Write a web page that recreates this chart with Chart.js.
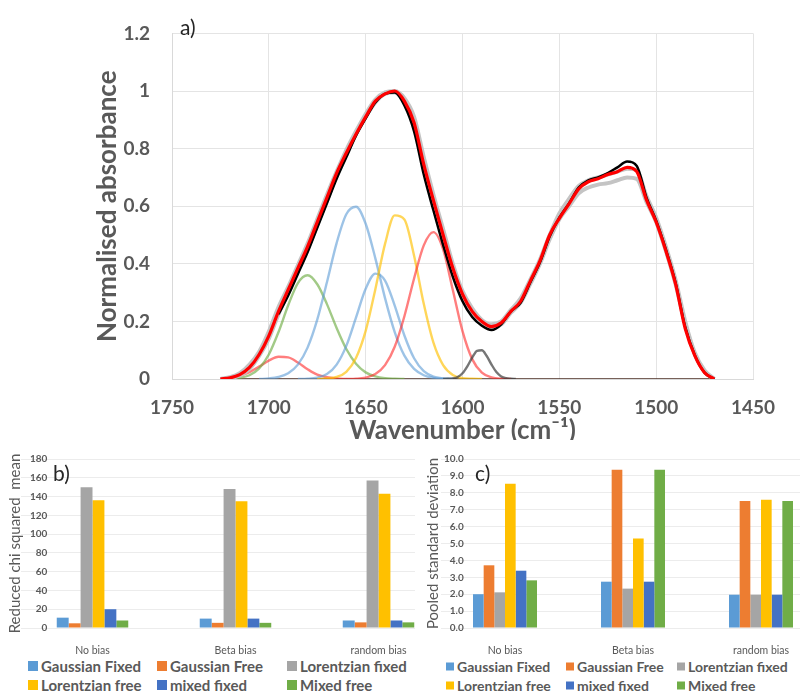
<!DOCTYPE html>
<html>
<head>
<meta charset="utf-8">
<script src="https://cdn.jsdelivr.net/npm/chart.js@4.4.1/dist/chart.umd.min.js"></script>
<style>
  html, body { margin: 0; padding: 0; background: #fff; overflow: hidden; }
  body { width: 800px; height: 699px; position: relative; font-family: Lato, sans-serif; }
  #wrapA { position: absolute; left: 0; top: 0; width: 800px; height: 446px; }
  #wrapB { position: absolute; left: 0; top: 440px; width: 415px; height: 215px; overflow: hidden; }
  #wrapC { position: absolute; left: 415px; top: 440px; width: 385px; height: 215px; overflow: hidden; background: #fff; }
  .key { position: absolute; display: flex; align-items: center; gap: 3px; transform: translateY(-50%);
         font-family: Lato, sans-serif; font-weight: bold; color: #595959; white-space: nowrap; }
  .key span { display: inline-block; }
</style>
</head>
<body>
<div id="wrapA"><canvas id="spectrum" width="800" height="446"></canvas></div>
<div id="wrapB"><canvas id="chiChart" width="460" height="215"></canvas></div>
<div id="wrapC"><canvas id="sdChart" width="420" height="215"></canvas></div>

<script>
// ---- a) spectra, wavenumber grid (cm-1) ----
const wn = [1725,1720,1715,1710,1705,1700,1695,1690,1685,1680,1675,1670,1665,1660,1655,1650,1645,1640,1635,1630,1625,1620,1615,1610,1605,1600,1595,1590,1585,1580,1575,1570,1565,1560,1555,1550,1545,1540,1535,1530,1525,1520,1515,1510,1505,1500,1495,1490,1485,1480,1475,1470];

const specRed = [0,0.004,0.015,0.04,0.085,0.15,0.235,0.31,0.385,0.46,0.545,0.63,0.715,0.785,0.85,0.91,0.965,0.99,1.0,0.965,0.89,0.745,0.62,0.5,0.385,0.295,0.235,0.2,0.182,0.195,0.235,0.27,0.34,0.41,0.5,0.558,0.608,0.66,0.685,0.695,0.71,0.72,0.735,0.72,0.622,0.545,0.445,0.33,0.175,0.08,0.022,0];
const specBlack = [null,null,null,null,null,null,0.225,0.29,0.365,0.44,0.525,0.61,0.695,0.77,0.845,0.905,0.96,0.99,0.995,0.95,0.86,0.71,0.585,0.465,0.355,0.27,0.215,0.185,0.17,0.19,0.235,0.265,0.335,0.405,0.495,0.56,0.61,0.665,0.69,0.70,0.715,0.735,0.755,0.74,0.63,0.55,0.45,0.335,0.18,0.082,0.022,0];
const specGreyA = [0,0.006,0.02,0.05,0.095,0.165,0.25,0.32,0.395,0.47,0.555,0.64,0.72,0.795,0.86,0.92,0.97,0.995,1.0,0.975,0.91,0.77,0.64,0.52,0.4,0.305,0.245,0.205,0.19,0.2,0.24,0.28,0.345,0.415,0.5,0.575,0.625,0.67,0.69,0.7,0.71,0.72,0.73,0.725,0.635,0.56,0.46,0.345,0.2,0.09,0.03,0];
const specGreyB = [0,0.003,0.012,0.035,0.08,0.14,0.225,0.3,0.375,0.45,0.535,0.62,0.705,0.78,0.85,0.91,0.96,0.99,0.995,0.96,0.885,0.74,0.61,0.49,0.375,0.29,0.23,0.195,0.18,0.19,0.23,0.265,0.33,0.4,0.485,0.555,0.6,0.645,0.665,0.675,0.68,0.69,0.7,0.695,0.615,0.545,0.445,0.33,0.19,0.085,0.025,0];

// fitted bands
const compWn = [1725,1720,1715,1710,1705,1700,1695,1690,1685,1680,1675,1670,1665,1660,1655,1650,1645,1640,1635,1630,1625,1620,1615,1610,1605,1600,1595,1590,1585,1580,1575];
const bandRedSmall = [0.001,0.004,0.011,0.024,0.043,0.064,0.077,0.075,0.057,0.034,0.015,0.006,0.002,0,null,null,null,null,null,null,null,null,null,null,null,null,null,null,null,null,null];
const bandGreen = [0,0.001,0.004,0.013,0.037,0.085,0.163,0.256,0.333,0.36,0.329,0.26,0.177,0.104,0.053,0.023,0.009,0.003,0.001,0,null,null,null,null,null,null,null,null,null,null,null];
const bandBlueTall = [null,null,null,null,0,0.002,0.007,0.02,0.05,0.109,0.206,0.336,0.472,0.572,0.598,0.539,0.419,0.281,0.163,0.081,0.035,0.013,0.004,0.001,0,null,null,null,null,null,null];
const bandBlueLow = [null,null,null,null,null,null,null,null,0,0.001,0.005,0.017,0.05,0.115,0.213,0.313,0.366,0.342,0.255,0.151,0.072,0.027,0.008,0.002,0,null,null,null,null,null,null];
const bandYellow = [null,null,null,null,null,null,null,null,null,null,0,0.002,0.007,0.025,0.073,0.167,0.312,0.469,0.568,0.554,0.428,0.261,0.126,0.048,0.014,0.003,0.001,0,null,null,null];
const bandRed = [null,null,null,null,null,null,null,null,null,null,null,null,null,0,0.001,0.005,0.017,0.048,0.112,0.218,0.349,0.464,0.51,0.45,0.309,0.166,0.069,0.022,0.006,0.001,0];
const greyWn = [1610,1607.5,1605,1602.5,1600,1597.5,1595,1592.5,1590,1587.5,1585,1582.5,1580,1577.5,1575,1572.5];
const bandGrey = [0,0.001,0.002,0.007,0.02,0.044,0.074,0.098,0.1,0.08,0.05,0.024,0.009,0.003,0.001,0];
const baseWn = [1725, 1470];
const baseAbs = [0, 0];

// ---- b) and c) ----
const biasCats = ['No bias', 'Beta bias', 'random bias'];
const fitNames = ['Gaussian Fixed', 'Gaussian Free', 'Lorentzian fixed', 'Lorentzian free', 'mixed fixed', 'Mixed free'];
const fitColours = ['#5b9bd5', '#ed7d31', '#a5a5a5', '#ffc000', '#4472c4', '#70ad47'];

const chiGaussFixed = [11, 10, 8];
const chiGaussFree = [5, 5.5, 6];
const chiLorFixed = [150, 148, 157];
const chiLorFree = [136, 135, 143];
const chiMixFixed = [20, 10, 8];
const chiMixFree = [8, 5.5, 6];

const sdGaussFixed = [2.0, 2.74, 1.97];
const sdGaussFree = [3.71, 9.37, 7.51];
const sdLorFixed = [2.11, 2.33, 1.97];
const sdLorFree = [8.54, 5.29, 7.59];
const sdMixFixed = [3.39, 2.74, 1.97];
const sdMixFree = [2.82, 9.37, 7.51];

const GREY = '#595959';
const xy = (xs, ys) => xs.map((x, i) => ({x: x, y: ys[i]}));

function panelTag(text, x, y, size) {
    return {
        id: 'panelTag',
        afterDraw(chart) {
            const ctx = chart.ctx;
            ctx.save();
            ctx.font = size + 'px Lato';
            ctx.fillStyle = '#262626';
            ctx.textBaseline = 'middle';
            ctx.fillText(text, x, y);
            ctx.restore();
        }
    };
}

function line(label, xs, ys, colour, width) {
    return {label: label, data: xy(xs, ys), borderColor: colour, borderWidth: width,
            pointRadius: 0, fill: false, cubicInterpolationMode: 'monotone', spanGaps: false};
}

// first dataset is painted last (on top)
new Chart(document.getElementById('spectrum'), {
    type: 'line',
    data: {
        datasets: [
            line('measured', wn, specRed, '#ff0000', 3.2),
            line('ref', wn, specBlack, '#000000', 2.5),
            line('rep1', wn, specGreyA, '#c4c4c4', 4),
            line('rep2', wn, specGreyB, '#c4c4c4', 4),
            line('band 1591', greyWn, bandGrey, 'rgba(60,60,60,0.7)', 2.4),
            line('band 1615', compWn, bandRed, 'rgba(255,40,40,0.6)', 2.4),
            line('band 1633', compWn, bandYellow, 'rgba(255,192,0,0.65)', 2.4),
            line('band 1644', compWn, bandBlueLow, 'rgba(91,155,213,0.6)', 2.4),
            line('band 1656', compWn, bandBlueTall, 'rgba(91,155,213,0.6)', 2.4),
            line('band 1681', compWn, bandGreen, 'rgba(112,173,71,0.65)', 2.4),
            line('band 1693', compWn, bandRedSmall, 'rgba(255,40,40,0.6)', 2.4),
            line('baseline', baseWn, baseAbs, '#4a2c22', 1.5)
        ]
    },
    options: {
        responsive: false,
        animation: false,
        layout: {padding: {top: 8, right: 47, left: 0, bottom: 0}},
        plugins: {legend: {display: false}, tooltip: {enabled: false}},
        scales: {
            x: {
                type: 'linear', reverse: true, min: 1450, max: 1750,
                ticks: {stepSize: 50, padding: 17, color: GREY, callback: v => String(v),
                        font: {family: 'Lato', size: 19, weight: 'bold'}},
                grid: {color: '#e4e4e4', drawTicks: false},
                border: {color: '#d9d9d9'},
                title: {display: true, text: 'Wavenumber (cm\u207B\u00B9)', color: GREY, padding: 0,
                        font: {family: 'Lato', size: 26, weight: 'bold'}},
                afterFit: s => { s.height = 67; }
            },
            y: {
                min: 0, max: 1.2,
                ticks: {stepSize: 0.2, padding: 22, color: GREY, callback: v => String(+v.toFixed(1)),
                        font: {family: 'Lato', size: 19, weight: 'bold'}},
                grid: {color: '#e4e4e4', drawTicks: false},
                border: {color: '#d9d9d9'},
                title: {display: true, text: 'Normalised absorbance', color: GREY, padding: {top: 92, bottom: 0},
                        font: {family: 'Lato', size: 26, weight: 'bold'}},
                afterFit: s => { s.width = 172; }
            }
        }
    },
    plugins: [panelTag('a)', 180, 28, 21)]
});

function barChart(id, series, yMax, yStep, yTitle, fmt, axisW, tickPad, titlePad, tag, tagX) {
    return new Chart(document.getElementById(id), {
        type: 'bar',
        data: {
            labels: biasCats,
            datasets: series.map((s, i) => ({
                label: fitNames[i], data: s, backgroundColor: fitColours[i],
                borderWidth: 0, categoryPercentage: 0.5, barPercentage: 1
            }))
        },
        options: {
            responsive: false,
            animation: false,
            layout: {padding: {top: 19, right: 10, left: 0, bottom: 0}},
            plugins: {legend: {display: false}, tooltip: {enabled: false}},
            scales: {
                x: {
                    grid: {display: false},
                    border: {display: false},
                    ticks: {color: GREY, padding: 8, font: {family: 'Lato', size: 10.5}},
                    afterFit: s => { s.height = 27; }
                },
                y: {
                    min: 0, max: yMax,
                    ticks: {stepSize: yStep, mirror: true, crossAlign: 'far', padding: tickPad, color: GREY,
                            callback: fmt, font: {family: 'Lato', size: 10, weight: 'bold'}},
                    grid: {color: '#ececec', drawTicks: false},
                    border: {display: false},
                    title: {display: true, text: yTitle, color: GREY, padding: {top: titlePad, bottom: 0},
                            font: {family: 'Lato', size: 15}},
                    afterFit: s => { s.width = axisW; }
                }
            }
        },
        plugins: [panelTag(tag, tagX, 34, 21)]
    });
}

const chiChart = barChart('chiChart',
    [chiGaussFixed, chiGaussFree, chiLorFixed, chiLorFree, chiMixFixed, chiMixFree],
    180, 20, 'Reduced chi squared  mean', v => String(v), 21, 9, 6, 'b)', 53);

const sdChart = barChart('sdChart',
    [sdGaussFixed, sdGaussFree, sdLorFixed, sdLorFree, sdMixFixed, sdMixFree],
    10, 1, 'Pooled standard deviation', v => v.toFixed(1), 26, 3, 9.5, 'c)', 60);

// html legends laid out in Excel-like columns
function htmlLegend(chart, cols, rows, box, size) {
    chart.data.datasets.forEach((ds, i) => {
        const item = document.createElement('div');
        item.className = 'key';
        item.style.left = cols[i % 3] + 'px';
        item.style.top = rows[Math.floor(i / 3)] + 'px';
        item.style.fontSize = size + 'px';
        const sw = document.createElement('span');
        sw.style.width = box + 'px';
        sw.style.height = box + 'px';
        sw.style.background = ds.backgroundColor;
        item.appendChild(sw);
        item.appendChild(document.createTextNode(ds.label));
        document.body.appendChild(item);
    });
}

htmlLegend(chiChart, [28, 157, 287], [666, 685], 10, 15);
htmlLegend(sdChart, [446, 566, 677], [666, 685], 8, 14);
</script>
</body>
</html>
